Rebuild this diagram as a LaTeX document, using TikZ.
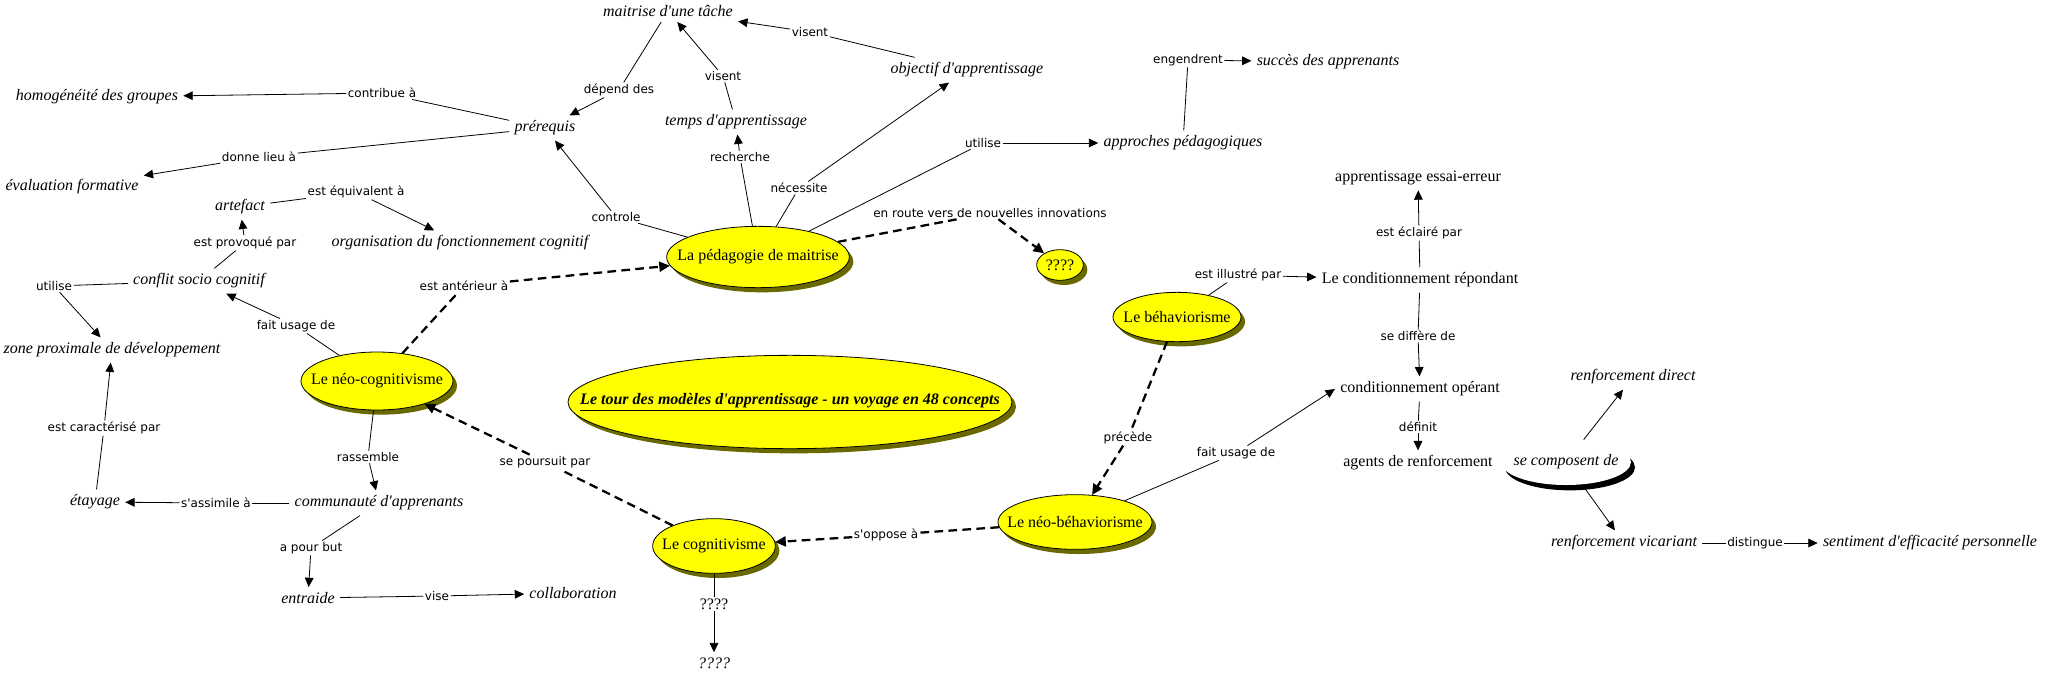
\documentclass[tikz,border=0pt]{standalone}
\usepackage{fontspec}
\setmainfont{Liberation Serif}
\setsansfont{DejaVu Sans}
\usetikzlibrary{shapes.geometric,arrows.meta,shadows}

\definecolor{themefill}{RGB}{255,255,0}
\definecolor{themeshadow}{RGB}{105,105,0}
\newcommand{\ap}{\textquotesingle}

\tikzset{
  concept/.style={font=\itshape\fontsize{12pt}{14pt}\selectfont, inner sep=3pt, outer sep=1pt},
  conceptr/.style={font=\fontsize{12pt}{14pt}\selectfont, inner sep=3pt, outer sep=1pt},
  lien/.style={font=\sffamily\fontsize{9pt}{11pt}\selectfont, inner sep=1pt},
  theme/.style={ellipse, draw, line width=0.6pt, fill=themefill, inner xsep=-20pt, inner ysep=0pt,
    font=\fontsize{12pt}{14pt}\selectfont,
    drop shadow={shadow xshift=3pt, shadow yshift=-3.5pt, fill=themeshadow, opacity=1}},
  trait/.style={line width=0.6pt},
  fleche/.style={line width=0.6pt, -{Triangle[length=7pt,width=6.5pt]}},
  pointille/.style={line width=1.7pt, dash pattern=on 6.5pt off 4pt},
  flechep/.style={pointille, -{Triangle[length=8pt,width=7.5pt]}},
}

\begin{document}
\begin{tikzpicture}[x=0.75pt,y=-0.75pt]
    \useasboundingbox (0,0) rectangle (2050,676);

    % themes
    \node[theme, minimum width=137pt, minimum height=46pt] (pedagogie) at (758,257) {La pédagogie de maitrise};
    \node[theme, minimum width=35pt, minimum height=23pt] (questions) at (1060,265) {????};
    \node[theme, inner xsep=-45pt, minimum width=333pt, minimum height=70pt] (titre) at (790,402)
        {\underline{\textbf{\textit{Le tour des modèles d\ap apprentissage - un voyage en 48 concepts}}}};
    \node[theme, minimum width=114pt, minimum height=43.5pt] (neocog) at (377,381) {Le néo-cognitivisme};
    \node[theme, minimum width=92pt, minimum height=41pt] (cognitivisme) at (714,546) {Le cognitivisme};
    \node[theme, minimum width=115.5pt, minimum height=41pt] (neobeh) at (1075,522) {Le néo-béhaviorisme};
    \node[theme, minimum width=96pt, minimum height=37pt] (beh) at (1177,317) {Le béhaviorisme};
    \node[ellipse, fill=white, inner xsep=-20pt, inner ysep=0pt, minimum width=97.5pt, minimum height=34.5pt,
        font=\itshape\fontsize{12pt}{14pt}\selectfont,
        drop shadow={shadow xshift=3pt, shadow yshift=-4pt, fill=black, opacity=1}]
        (composent) at (1566,462) {se composent de};

    % concepts
    \node[concept] (maitrise) at (668,11) {maitrise d\ap une tâche};
    \node[concept] (objectif) at (967,70) {objectif d\ap apprentissage};
    \node[concept] (temps) at (736,122) {temps d\ap apprentissage};
    \node[concept] (prerequis) at (545,128) {prérequis};
    \node[concept] (homog) at (97,97) {homogénéité des groupes};
    \node[concept] (evalf) at (72,187) {évaluation formative};
    \node[concept] (artefact) at (240,207) {artefact};
    \node[concept] (orga) at (460,243) {organisation du fonctionnement cognitif};
    \node[concept] (conflit) at (199,281) {conflit socio cognitif};
    \node[concept] (zpd) at (112,350) {zone proximale de développement};
    \node[concept] (etayage) at (95,502) {étayage};
    \node[concept] (commu) at (379,503) {communauté d\ap apprenants};
    \node[concept] (entraide) at (308,598) {entraide};
    \node[concept] (collab) at (573,593) {collaboration};
    \node[concept] (approches) at (1183,143) {approches pédagogiques};
    \node[concept] (succes) at (1328,62) {succès des apprenants};
    \node[concept] (inconnu) at (714,663) {????};
    \node[conceptr] (essai) at (1418,178) {apprentissage essai-erreur};
    \node[conceptr] (repondant) at (1420,280) {Le conditionnement répondant};
    \node[conceptr] (operant) at (1420,389) {conditionnement opérant};
    \node[conceptr] (agents) at (1418,463) {agents de renforcement};
    \node[concept] (direct) at (1633,377) {renforcement direct};
    \node[concept] (vicariant) at (1624,543) {renforcement vicariant};
    \node[concept] (sentiment) at (1930,543) {sentiment d\ap efficacité personnelle};

    % liens
    \node[lien] (visentA) at (810,32) {visent};
    \node[lien] (dependdes) at (619,90) {dépend des};
    \node[lien] (visentB) at (723,76) {visent};
    \node[lien] (contribue) at (382,93) {contribue à};
    \node[lien] (donne) at (259,157) {donne lieu à};
    \node[lien] (recherche) at (740,157) {recherche};
    \node[lien] (necessite) at (799,188) {nécessite};
    \node[lien] (utiliseB) at (983,143) {utilise};
    \node[lien] (engendrent) at (1188,60) {engendrent};
    \node[lien] (equivalent) at (356,192) {est équivalent à};
    \node[lien] (provoque) at (245,243) {est provoqué par};
    \node[lien] (controle) at (616,217) {controle};
    \node[lien] (enroute) at (990,213) {en route vers de nouvelles innovations};
    \node[lien] (utiliseA) at (54,286) {utilise};
    \node[lien] (anterieur) at (464,286) {est antérieur à};
    \node[lien] (usageA) at (296,326) {fait usage de};
    \node[lien] (caracterise) at (104,428) {est caractérisé par};
    \node[lien] (rassemble) at (368,457) {rassemble};
    \node[lien] (poursuit) at (545,462) {se poursuit par};
    \node[lien] (assimile) at (216,503) {s\ap assimile à};
    \node[lien] (pourbut) at (311,548) {a pour but};
    \node[lien] (vise) at (437,596) {vise};
    \node[lien] (oppose) at (886,535) {s\ap oppose à};
    \node[lien, font=\fontsize{12pt}{14pt}\selectfont] (interro) at (714,604) {????};
    \node[lien] (illustre) at (1238,275) {est illustré par};
    \node[lien] (eclaire) at (1419,233) {est éclairé par};
    \node[lien] (differe) at (1418,336) {se diffère de};
    \node[lien] (precede) at (1128,438) {précède};
    \node[lien] (usageB) at (1236,453) {fait usage de};
    \node[lien] (definit) at (1418,427) {définit};
    \node[lien] (distingue) at (1755,543) {distingue};

    % connecteurs
    \draw[trait] (objectif) -- (visentA);
    \draw[fleche] (visentA) -- (maitrise);
    \draw[trait] (maitrise) -- (dependdes);
    \draw[fleche] (dependdes) -- (prerequis);
    \draw[trait] (temps) -- (visentB);
    \draw[fleche] (visentB) -- (maitrise);
    \draw[trait] (prerequis) -- (contribue);
    \draw[fleche] (contribue) -- (homog);
    \draw[trait] (prerequis) -- (donne);
    \draw[fleche] (donne) -- (evalf);
    \draw[trait] (pedagogie) -- (controle);
    \draw[fleche] (controle) -- (prerequis);
    \draw[trait] (pedagogie) -- (recherche);
    \draw[fleche] (recherche) -- (temps);
    \draw[trait] (pedagogie) -- (necessite);
    \draw[fleche] (necessite) -- (objectif);
    \draw[trait] (pedagogie) -- (utiliseB);
    \draw[fleche] (utiliseB) -- (approches);
    \draw[trait] (approches) -- (engendrent);
    \draw[fleche] (engendrent) -- (succes);
    \draw[pointille] (pedagogie) -- (enroute);
    \draw[flechep] (enroute) -- (questions);
    \draw[trait] (artefact) -- (equivalent);
    \draw[fleche] (equivalent) -- (orga);
    \draw[trait] (conflit) -- (provoque);
    \draw[fleche] (provoque) -- (artefact);
    \draw[trait] (conflit) -- (utiliseA);
    \draw[fleche] (utiliseA) -- (zpd);
    \draw[trait] (neocog) -- (usageA);
    \draw[fleche] (usageA) -- (conflit);
    \draw[pointille] (neocog) -- (anterieur);
    \draw[flechep] (anterieur) -- (pedagogie);
    \draw[trait] (etayage) -- (caracterise);
    \draw[fleche] (caracterise) -- (zpd);
    \draw[trait] (neocog) -- (rassemble);
    \draw[fleche] (rassemble) -- (commu);
    \draw[trait] (commu) -- (assimile);
    \draw[fleche] (assimile) -- (etayage);
    \draw[trait] (commu) -- (pourbut);
    \draw[fleche] (pourbut) -- (entraide);
    \draw[trait] (entraide) -- (vise);
    \draw[fleche] (vise) -- (collab);
    \draw[pointille] (cognitivisme) -- (poursuit);
    \draw[flechep] (poursuit) -- (neocog);
    \draw[pointille] (neobeh) -- (oppose);
    \draw[flechep] (oppose) -- (cognitivisme);
    \draw[trait] (cognitivisme) -- (interro);
    \draw[fleche] (interro) -- (inconnu);
    \draw[pointille] (beh) -- (precede);
    \draw[flechep] (precede) -- (neobeh);
    \draw[trait] (beh) -- (illustre);
    \draw[fleche] (illustre) -- (repondant);
    \draw[trait] (repondant) -- (eclaire);
    \draw[fleche] (eclaire) -- (essai);
    \draw[trait] (repondant) -- (differe);
    \draw[fleche] (differe) -- (operant);
    \draw[trait] (neobeh) -- (usageB);
    \draw[fleche] (usageB) -- (operant.west);
    \draw[trait] (operant) -- (definit);
    \draw[fleche] (definit) -- (agents);
    \draw[fleche] (composent) -- (direct);
    \draw[fleche] (composent) -- (vicariant);
    \draw[trait] (vicariant) -- (distingue);
    \draw[fleche] (distingue) -- (sentiment);
\end{tikzpicture}
\end{document}
